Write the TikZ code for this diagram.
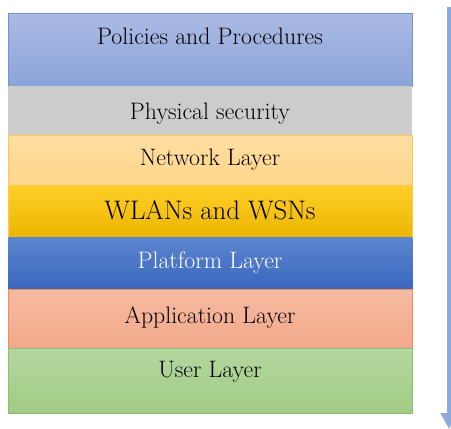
\documentclass[tikz,border=0pt]{standalone}
\usetikzlibrary{arrows.meta}
\definecolor{policytop}{RGB}{172, 186, 228}
\definecolor{policybot}{RGB}{138, 164, 216}
\definecolor{policyline}{RGB}{114, 146, 208}
\definecolor{physgray}{RGB}{204, 204, 204}
\definecolor{nettop}{RGB}{255, 222, 160}
\definecolor{netbot}{RGB}{255, 214, 140}
\definecolor{netline}{RGB}{255, 200, 80}
\definecolor{wlantop}{RGB}{255, 206, 40}
\definecolor{wlanbot}{RGB}{236, 182, 0}
\definecolor{platop}{RGB}{92, 132, 206}
\definecolor{platbot}{RGB}{58, 104, 190}
\definecolor{apptop}{RGB}{246, 186, 160}
\definecolor{appbot}{RGB}{242, 168, 138}
\definecolor{appline}{RGB}{236, 140, 100}
\definecolor{usertop}{RGB}{180, 214, 160}
\definecolor{userbot}{RGB}{160, 204, 130}
\definecolor{userline}{RGB}{140, 192, 110}
\definecolor{arrowblue}{RGB}{142, 170, 220}

\begin{document}
\begin{tikzpicture}[x=1pt, y=-1pt,
    layer/.style={anchor=north west, minimum width=404pt, inner sep=0pt, line width=0.8pt},
    caption/.style={anchor=base, inner sep=0pt, font=\fontsize{23.8}{28}\selectfont}]
            % Frame to fix the page
            \useasboundingbox                                             (0, 0) rectangle (451, 429);
            % Layers, top to bottom
            \node[layer, draw=policyline, top color=policytop, bottom color=policybot, minimum height=73pt] (policies)    at (8,  13) {};
            \node[layer, fill=physgray,                                               minimum height=49pt] (physical)    at (8,  86) {};
            \node[layer, draw=netline,    top color=nettop,    bottom color=netbot,    minimum height=50pt] (network)     at (8, 135) {};
            \node[layer, draw=netline,    top color=wlantop,   bottom color=wlanbot,   minimum height=52pt] (wlans)       at (8, 185) {};
            \node[layer,                  top color=platop,    bottom color=platbot,   minimum height=52pt] (platform)    at (8, 237) {};
            \node[layer, draw=appline,    top color=apptop,    bottom color=appbot,    minimum height=59pt] (application) at (8, 289) {};
            \node[layer, draw=userline,   top color=usertop,   bottom color=userbot,   minimum height=65pt] (user)        at (8, 348) {};
            % Layer names
            \node[caption]                                                (policiestext)    at (210,  44) {Policies and Procedures};
            \node[caption]                                                (physicaltext)    at (210, 119) {Physical security};
            \node[caption]                                                (networktext)     at (210, 165) {Network Layer};
            \node[caption, font=\fontsize{26.8}{32}\selectfont]           (wlanstext)       at (210, 219) {WLANs and WSNs};
            \node[caption, text=white]                                    (platformtext)    at (210, 268) {Platform Layer};
            \node[caption]                                                (applicationtext) at (210, 323) {Application Layer};
            \node[caption]                                                (usertext)        at (210, 377) {User Layer};
            % Direction arrow
            \coordinate (arrowtop)    at (449,   7);
            \coordinate (arrowbottom) at (449, 429);
            \draw[arrowblue, line width=4pt, -{Triangle[width=16pt, length=16pt]}] (arrowtop) -- (arrowbottom);
\end{tikzpicture}
\end{document}
